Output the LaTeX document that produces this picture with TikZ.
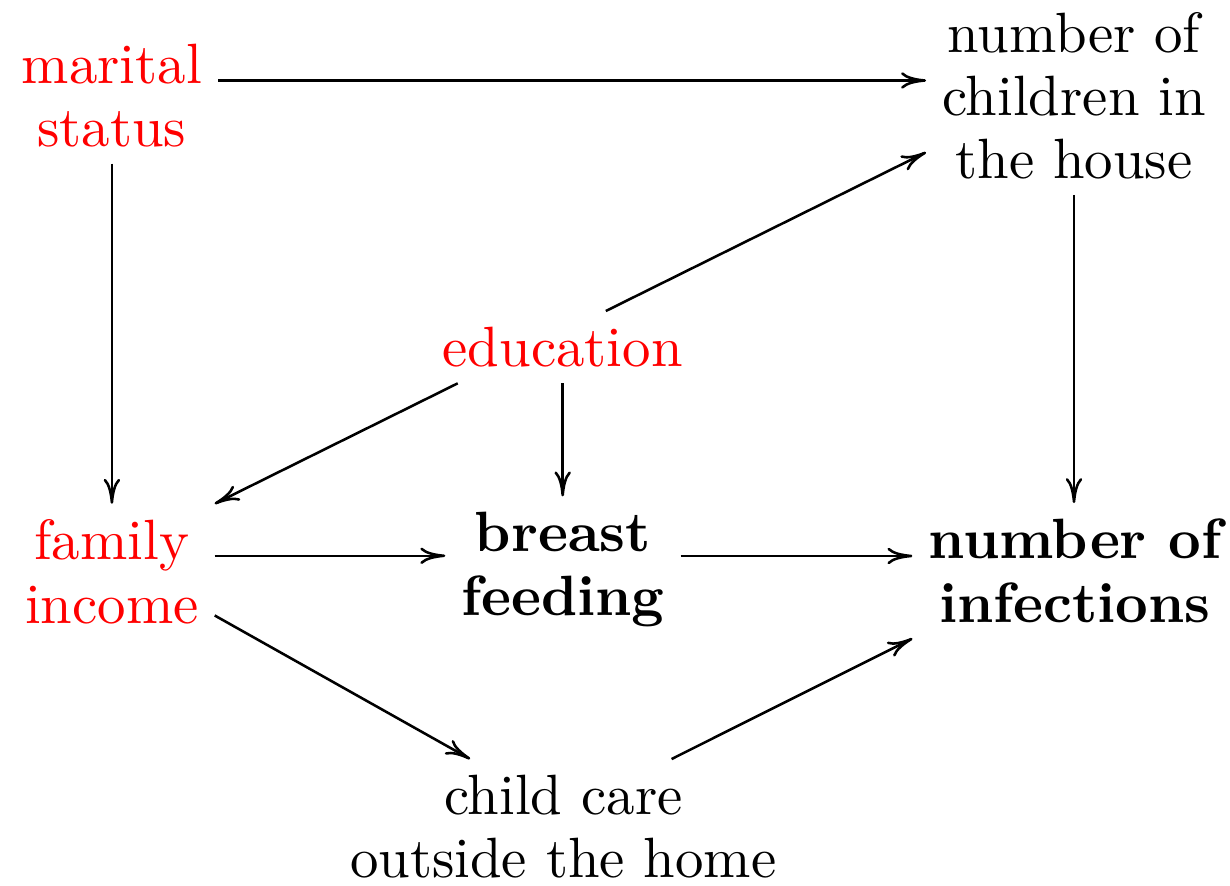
\documentclass[tikz,border=0pt]{standalone}
\usetikzlibrary{calc,arrows.meta}
\begin{document}
\begin{tikzpicture}[x=0.17606pt,y=-0.17606pt,
  var/.style={align=center,inner sep=2.64pt,font=\fontsize{10}{11.1}\selectfont},
  cause/.style={var,text=red},
  outcome/.style={var,font=\fontsize{10}{11.1}\selectfont\bfseries},
  link/.style={-{To[length=4.4pt,width=2.9pt]},line width=0.45pt}]
\useasboundingbox (0,0) rectangle (1230,886);

% variables
\node[cause]   (ms) at (111.9,96)    {marital\\status};
\node[var]     (nc) at (1074,95.5)   {number of\\children in\\the house};
\node[cause]   (ed) at (562.7,347.2) {education};
\node[cause]   (fi) at (111.8,571.8) {family\\income};
\node[outcome] (bf) at (563,569.5)   {breast\\feeding};
\node[outcome] (ni) at (1074.9,570.8) {number of\\infections};
\node[var]     (cc) at (563.3,826.7) {child care\\outside the home};

% horizontal links
\coordinate (msA) at ($(ms.east)+(0,-15.5)$);
\coordinate (fiA) at ($(fi.east)+(0,-16)$);
\coordinate (bfA) at ($(bf.east)+(0,-13.5)$);
\draw[link] (msA) -- (msA -| nc.west);
\draw[link] (fiA) -- (fiA -| bf.west);
\draw[link] (bfA) -- (bfA -| ni.west);

% vertical links
\draw[link] (ms.south) -- (ms.south |- fi.north);
\draw[link] (nc.south) -- (nc.south |- ni.north);
\draw[link] (ed.south) -- (ed.south |- bf.north);

% diagonal links
\draw[link] (ed.199) -- (fi.north east);
\draw[link] (ed.40.5) -- (nc.201);
\draw[link] (fi.337) -- (cc.144);
\draw[link] (cc.32) -- (ni.south west);
\end{tikzpicture}
\end{document}
